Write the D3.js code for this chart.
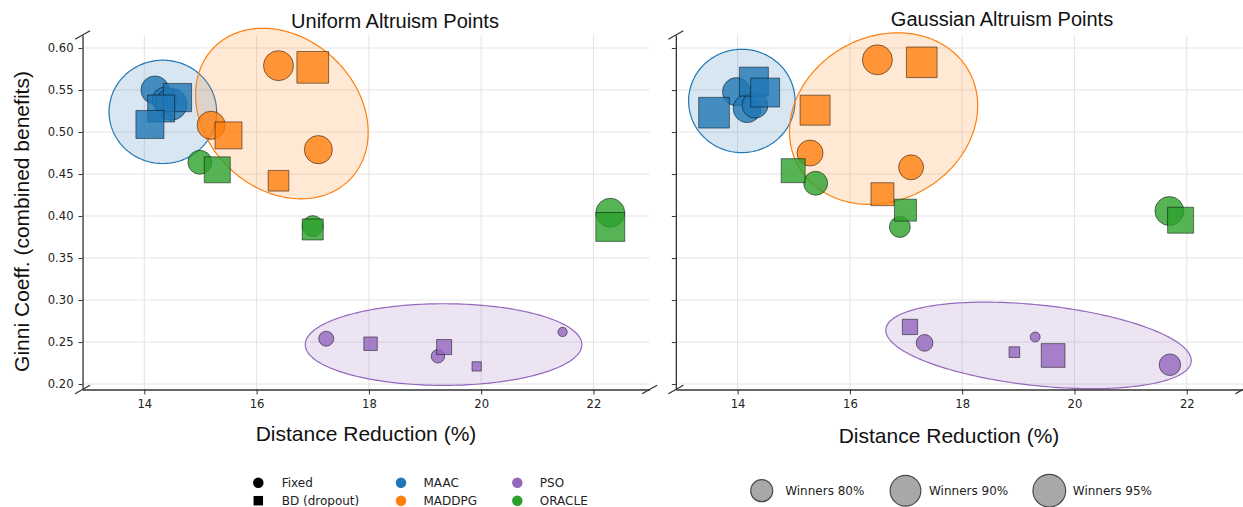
<!DOCTYPE html>
<html>
<head>
<meta charset="utf-8">
<script src="https://cdn.jsdelivr.net/npm/d3@7"></script>
<style>
  html, body { margin: 0; padding: 0; background: #fff; }
  svg { display: block; }
</style>
</head>
<body>
<svg id="chart" width="1243" height="507"></svg>
<script>
// Each point: [distance reduction (%), Gini coefficient, winners (%)]
const uniformMAACFixed    = [[14.19, 0.550, 86.9], [14.37, 0.538, 84.6], [14.48, 0.533, 93.2]];
const uniformMAACBD       = [[14.59, 0.541, 87.2], [14.30, 0.528, 85.7], [14.10, 0.509, 86.9]];
const uniformMADDPGFixed  = [[16.39, 0.579, 89.2], [15.19, 0.508, 86.9], [17.10, 0.479, 86.9]];
const uniformMADDPGBD     = [[17.00, 0.577, 92.5], [15.50, 0.496, 85.7], [16.39, 0.442, 78.5]];
const uniformPSOFixed     = [[17.24, 0.254, 72.0], [19.23, 0.233, 70.2], [21.45, 0.262, 65.4]];
const uniformPSOBD        = [[18.03, 0.248, 70.2], [19.34, 0.244, 72.0], [19.92, 0.221, 65.4]];
const uniformORACLEFixed  = [[14.99, 0.464, 82.3], [17.00, 0.388, 78.9], [22.30, 0.404, 88.0]];
const uniformORACLEBD     = [[15.30, 0.455, 84.6], [17.00, 0.384, 78.9], [22.30, 0.387, 88.0]];

const gaussianMAACFixed   = [[13.98, 0.548, 86.9], [14.17, 0.528, 86.9], [14.31, 0.532, 84.6]];
const gaussianMAACBD      = [[14.29, 0.560, 88.0], [14.49, 0.547, 88.0], [13.58, 0.523, 90.0]];
const gaussianMADDPGFixed = [[16.49, 0.586, 89.2], [15.29, 0.475, 84.6], [17.09, 0.458, 83.4]];
const gaussianMADDPGBD    = [[17.28, 0.583, 89.9], [15.38, 0.526, 89.2], [16.58, 0.426, 81.1]];
const gaussianPSOFixed    = [[17.33, 0.249, 74.0], [19.30, 0.256, 66.2], [21.70, 0.223, 79.3]];
const gaussianPSOBD       = [[17.07, 0.268, 72.3], [18.93, 0.238, 67.0], [19.62, 0.234, 82.0]];
const gaussianORACLEFixed = [[15.39, 0.439, 82.3], [16.89, 0.387, 78.9], [21.69, 0.406, 88.0]];
const gaussianORACLEBD    = [[14.99, 0.454, 82.3], [16.99, 0.407, 80.0], [21.89, 0.395, 84.6]];

// Spread ellipses: [algorithm, centre x, centre y, half-extent x, half-extent y, correlation]
const uniformEllipses  = [["MAAC", 14.33, 0.524, 0.958, 0.0615, 0],
                          ["MADDPG", 16.45, 0.522, 1.537, 0.1015, -0.22],
                          ["PSO", 19.33, 0.247, 2.463, 0.0486, 0]];
const gaussianEllipses = [["MAAC", 14.075, 0.537, 0.948, 0.0615, 0],
                          ["MADDPG", 16.60, 0.516, 1.676, 0.1021, 0.15],
                          ["PSO", 19.36, 0.246, 2.72, 0.0515, -0.35]];

const algorithms = ["MAAC", "MADDPG", "PSO", "ORACLE"];
const algorithmColors = ["#1f77b4", "#ff7f0e", "#9467bd", "#2ca02c"];
const xTickValues = [14, 16, 18, 20, 22];
const yTickValues = [0.20, 0.25, 0.30, 0.35, 0.40, 0.45, 0.50, 0.55, 0.60];
const winnerLevels = [80, 90, 95];
const markerTypes = ["Fixed", "BD (dropout)"];

const color = d3.scaleOrdinal().domain(algorithms).range(algorithmColors);
const y = d3.scaleLinear().domain([0.1935, 0.6155]).range([389.5, 35]);
// marker diameter (px) for a winners share
const diameter = d3.scaleLinear().domain(winnerLevels).range([22, 30.7, 32.7]);

const TICK_FONT = "'DejaVu Sans', sans-serif";
const LABEL_FONT = "'Liberation Sans', Arial, sans-serif";
const INK = "#333";

const svg = d3.select("#chart");

const panels = [
  {
    title: "Uniform Altruism Points", range: [82.55, 649.6],
    titleX: 395, titleY: 28, labelX: 366, labelY: 441, yLabels: true,
    fixed: [uniformMAACFixed, uniformMADDPGFixed, uniformPSOFixed, uniformORACLEFixed],
    bd: [uniformMAACBD, uniformMADDPGBD, uniformPSOBD, uniformORACLEBD],
    ellipses: uniformEllipses
  },
  {
    title: "Gaussian Altruism Points", range: [675.85, 1242.9],
    titleX: 1002, titleY: 26, labelX: 949, labelY: 443, yLabels: false,
    fixed: [gaussianMAACFixed, gaussianMADDPGFixed, gaussianPSOFixed, gaussianORACLEFixed],
    bd: [gaussianMAACBD, gaussianMADDPGBD, gaussianPSOBD, gaussianORACLEBD],
    ellipses: gaussianEllipses
  }
];

// draw order of the algorithms' markers
const drawOrder = ["MAAC", "MADDPG", "ORACLE", "PSO"];

function symbolPath(type, d) {
  if (type === "circle") return d3.symbol().type(d3.symbolCircle).size(Math.PI * d * d / 4)();
  return d3.symbol().type(d3.symbolSquare).size(d * d)();
}

panels.forEach(p => {
  const x = d3.scaleLinear().domain([12.9, 23.0]).range(p.range);
  const g = svg.append("g");
  const [yBottom, yTop] = y.range();
  const [xLeft, xRight] = x.range();

  // grid
  g.append("g").selectAll("line").data(xTickValues).join("line")
    .attr("x1", d => x(d)).attr("x2", d => x(d))
    .attr("y1", yBottom).attr("y2", yTop)
    .attr("stroke", "#e4e4e4").attr("stroke-width", 1);
  g.append("g").selectAll("line").data(yTickValues).join("line")
    .attr("x1", xLeft).attr("x2", xRight)
    .attr("y1", d => y(d)).attr("y2", d => y(d))
    .attr("stroke", "#e4e4e4").attr("stroke-width", 1);

  // spread ellipses
  const line = d3.line().x(d => x(d[0])).y(d => y(d[1])).curve(d3.curveLinearClosed);
  g.append("g").selectAll("path").data(p.ellipses).join("path")
    .attr("d", ([, cx, cy, rx, ry, rho]) => {
      const pts = d3.range(0, 2 * Math.PI, Math.PI / 120).map(t => [
        cx + rx * Math.cos(t),
        cy + ry * (rho * Math.cos(t) + Math.sqrt(1 - rho * rho) * Math.sin(t))
      ]);
      return line(pts);
    })
    .attr("fill", d => color(d[0])).attr("fill-opacity", 0.18)
    .attr("stroke", d => color(d[0])).attr("stroke-width", 1.2);

  // markers: fixed (circles) then BD dropout (squares) for each algorithm
  const markers = g.append("g");
  drawOrder.forEach(name => {
    const i = algorithms.indexOf(name);
    [["circle", p.fixed[i]], ["square", p.bd[i]]].forEach(([type, pts]) => {
      markers.append("g").selectAll("path").data(pts).join("path")
        .attr("transform", d => `translate(${x(d[0])},${y(d[1])})`)
        .attr("d", d => symbolPath(type, diameter(d[2])))
        .attr("fill", color(name)).attr("fill-opacity", 0.8)
        .attr("stroke", "#000").attr("stroke-opacity", 0.55).attr("stroke-width", 0.9);
    });
  });

  // axes
  const xAxis = d3.axisBottom(x).tickValues(xTickValues).tickSize(5).tickSizeOuter(0)
    .tickPadding(5).tickFormat(d3.format("d"));
  const yAxis = d3.axisLeft(y).tickValues(yTickValues).tickSize(4).tickSizeOuter(0)
    .tickPadding(5).tickFormat(p.yLabels ? d3.format(".2f") : () => "");
  [[xAxis, `translate(0,${yBottom})`], [yAxis, `translate(${xLeft},0)`]].forEach(([ax, tr]) => {
    const a = g.append("g").attr("transform", tr).call(ax);
    a.select(".domain").attr("stroke", INK).attr("stroke-width", 1.3);
    a.selectAll(".tick line").attr("stroke", INK).attr("stroke-width", 1);
    a.selectAll(".tick text").attr("fill", "#222").style("font-family", TICK_FONT).style("font-size", "11.6px");
  });

  // axis break marks
  g.append("g").selectAll("line").data([[xLeft, yTop], [xLeft, yBottom], [xRight, yBottom]]).join("line")
    .attr("x1", d => d[0] - 7.5).attr("y1", d => d[1] + 4.3)
    .attr("x2", d => d[0] + 7.5).attr("y2", d => d[1] - 4.3)
    .attr("stroke", INK).attr("stroke-width", 1.3);

  // titles
  g.append("text").attr("x", p.titleX).attr("y", p.titleY).attr("text-anchor", "middle")
    .style("font-family", LABEL_FONT).style("font-size", "20px").attr("fill", "#111").text(p.title);
  g.append("text").attr("x", p.labelX).attr("y", p.labelY).attr("text-anchor", "middle")
    .style("font-family", LABEL_FONT).style("font-size", "21px").attr("fill", "#111")
    .text("Distance Reduction (%)");
});

// shared y label
svg.append("text").attr("transform", "translate(29,221.5) rotate(-90)").attr("text-anchor", "middle")
  .style("font-family", LABEL_FONT).style("font-size", "21px").attr("fill", "#111")
  .text("Ginni Coeff. (combined benefits)");

// legend: marker shape and algorithm colour
const legend = svg.append("g").style("font-family", TICK_FONT).style("font-size", "12px");
const rowsY = [482.7, 500.7];
markerTypes.forEach((label, i) => {
  legend.append("path").attr("transform", `translate(258.3,${rowsY[i]})`)
    .attr("d", i === 0 ? symbolPath("circle", 10.5) : symbolPath("square", 9.5)).attr("fill", "#000");
  legend.append("text").attr("x", 281.7).attr("y", rowsY[i]).attr("dy", "0.35em").attr("fill", "#222").text(label);
});
algorithms.forEach((name, i) => {
  const cx = i < 2 ? 401 : 517.3;
  const cy = rowsY[i % 2];
  legend.append("path").attr("transform", `translate(${cx},${cy})`)
    .attr("d", symbolPath("circle", 10.5)).attr("fill", color(name));
  legend.append("text").attr("x", cx + 22.5).attr("y", cy).attr("dy", "0.35em").attr("fill", "#222").text(name);
});

// legend: marker size for winners share
const sizeLegend = svg.append("g").style("font-family", TICK_FONT).style("font-size", "12px");
winnerLevels.forEach((w, i) => {
  const cx = 761.7 + i * 143.8;
  sizeLegend.append("path").attr("transform", `translate(${cx},490.7)`)
    .attr("d", symbolPath("circle", diameter(w)))
    .attr("fill", "#a8a8a8").attr("stroke", "#4a4a4a").attr("stroke-width", 1.2);
  sizeLegend.append("text").attr("x", cx + 23.5).attr("y", 490.7).attr("dy", "0.35em")
    .attr("fill", "#222").text(`Winners ${w}%`);
});
</script>
</body>
</html>
